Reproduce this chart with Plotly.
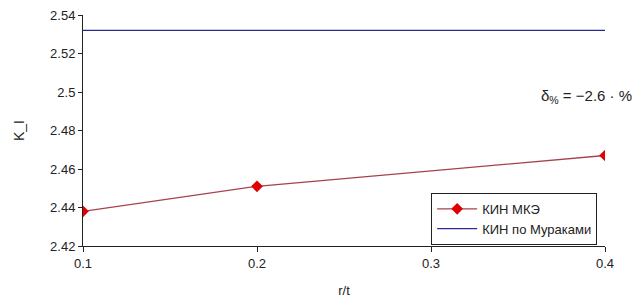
import plotly.graph_objects as go

r_t = [0.1, 0.2, 0.4]
kin_mke = [2.438, 2.451, 2.467]
murakami_x = [0.1, 0.4]
murakami_y = [2.532, 2.532]
y_ticks = [2.42, 2.44, 2.46, 2.48, 2.5, 2.52, 2.54]
y_tick_labels = ["2.42", "2.44", "2.46", "2.48", "2.5", "2.52", "2.54"]
x_ticks = [0.1, 0.2, 0.3, 0.4]
x_tick_labels = ["0.1", "0.2", "0.3", "0.4"]

font = "Liberation Sans, Arial, sans-serif"

fig = go.Figure()
fig.add_trace(go.Scatter(
    x=r_t, y=kin_mke, mode="lines+markers", name="КИН МКЭ",
    line=dict(color="#a8404c", width=1.3),
    marker=dict(symbol="diamond", size=9, color="#e00000"),
))
fig.add_trace(go.Scatter(
    x=murakami_x, y=murakami_y, mode="lines", name="КИН по Мураками",
    line=dict(color="#2a2a90", width=1.2),
))

fig.update_layout(
    width=643, height=305,
    margin=dict(l=83, r=38, t=15, b=59),
    paper_bgcolor="white", plot_bgcolor="white",
    font=dict(family=font, size=13, color="#222222"),
    showlegend=True,
    legend=dict(
        x=0.985, y=0.005, xanchor="right", yanchor="bottom",
        bordercolor="#222222", borderwidth=1, bgcolor="white",
        font=dict(family=font, size=13, color="#222222"),
        tracegroupgap=0, itemwidth=40,
    ),
    xaxis=dict(
        range=[0.1, 0.4], tickvals=x_ticks, ticktext=x_tick_labels,
        showgrid=False, zeroline=False, showline=True, linecolor="#222222",
        linewidth=1, ticks="outside", ticklen=5, tickcolor="#222222",
        automargin=False,
        title=dict(text="r/t", font=dict(size=13), standoff=16),
    ),
    yaxis=dict(
        range=[2.42, 2.54], tickvals=y_ticks, ticktext=y_tick_labels,
        showgrid=False, zeroline=False, showline=True, linecolor="#222222",
        linewidth=1, ticks="outside", ticklen=4, tickcolor="#222222",
        automargin=False,
        title=dict(text="K_I", font=dict(size=14), standoff=22),
    ),
    annotations=[dict(
        x=1.055, y=2.4976, xref="paper", yref="y", xanchor="right", yanchor="middle",
        text="δ<sub>%</sub> = −2.6 · %", showarrow=False,
        font=dict(family=font, size=15, color="#222222"),
    )],
)

fig.write_html("out.html")
